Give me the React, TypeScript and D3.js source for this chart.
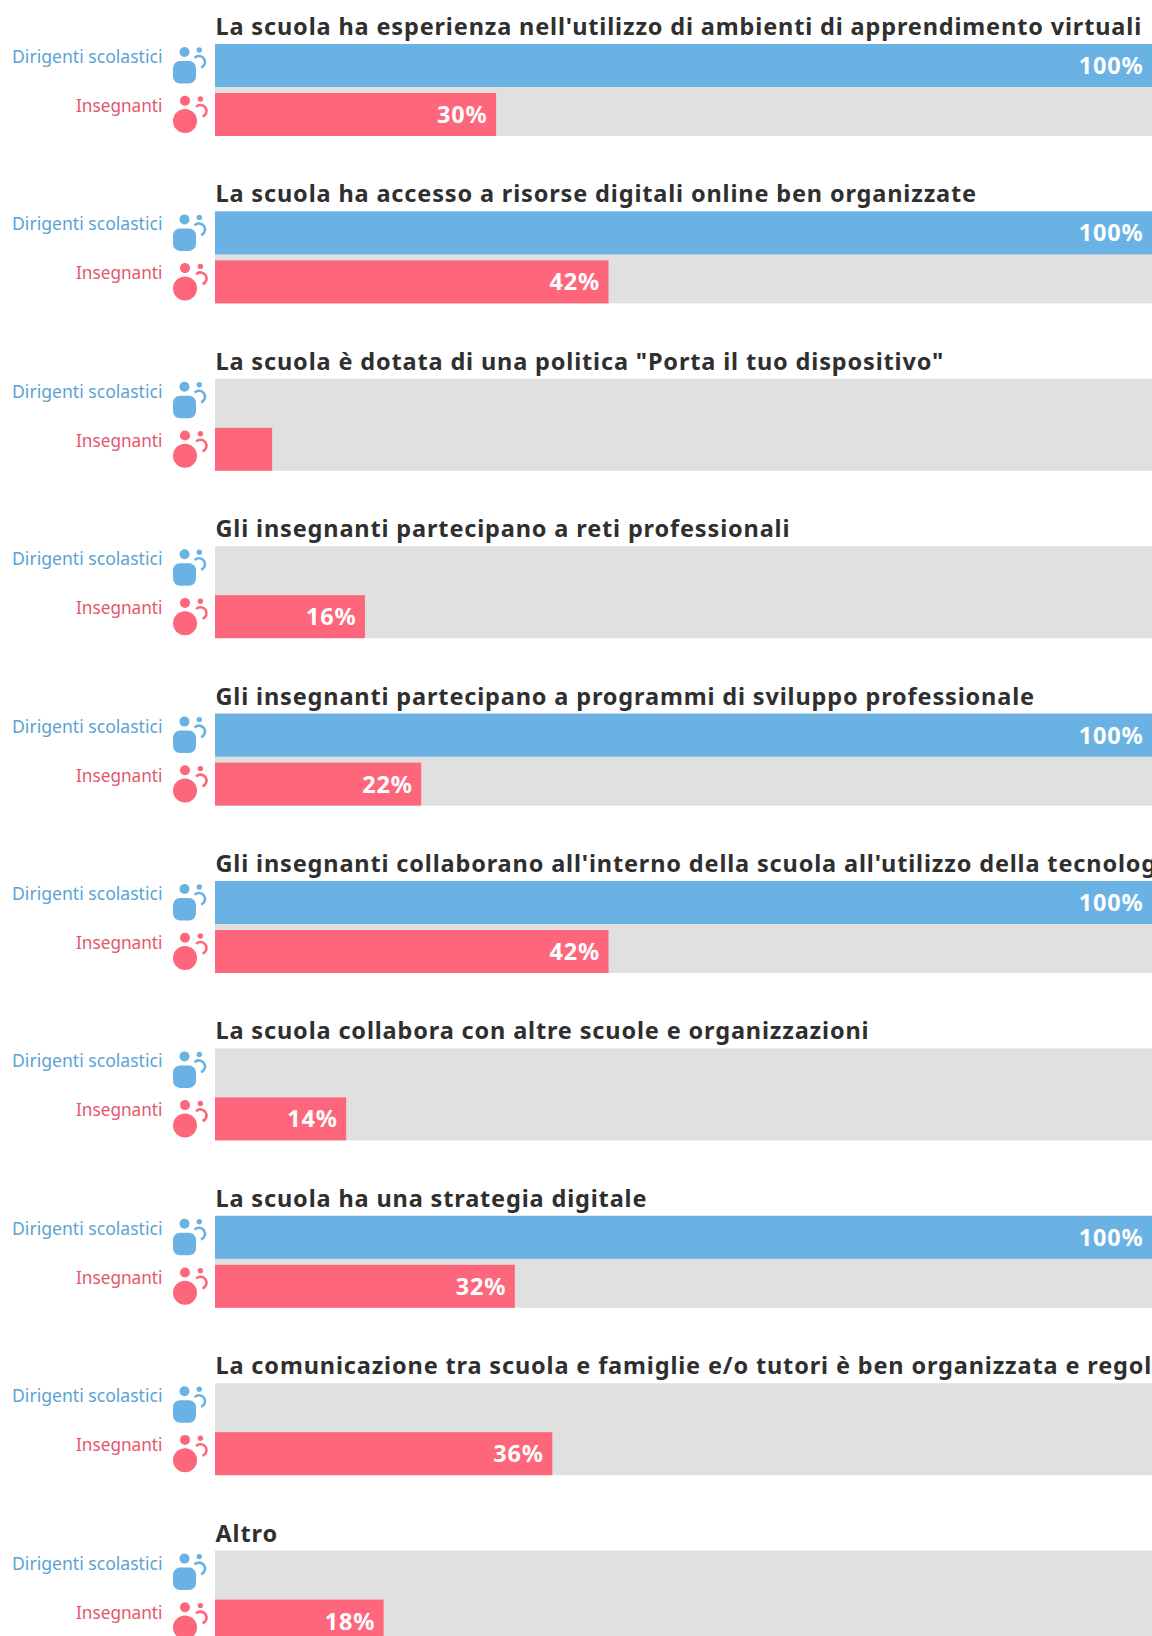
import React from "react";
import * as d3 from "d3";

const titles = [
  "La scuola ha esperienza nell'utilizzo di ambienti di apprendimento virtuali",
  "La scuola ha accesso a risorse digitali online ben organizzate",
  'La scuola è dotata di una politica "Porta il tuo dispositivo"',
  "Gli insegnanti partecipano a reti professionali",
  "Gli insegnanti partecipano a programmi di sviluppo professionale",
  "Gli insegnanti collaborano all'interno della scuola all'utilizzo della tecnologia",
  "La scuola collabora con altre scuole e organizzazioni",
  "La scuola ha una strategia digitale",
  "La comunicazione tra scuola e famiglie e/o tutori è ben organizzata e regolare",
  "Altro",
];
const dirigenti = [100, 100, 0, 0, 100, 100, 0, 100, 0, 0];
const insegnanti = [30, 42, 6.1, 16, 22, 42, 14, 32, 36, 18];
const labelFlags = [true, true, false, true, true, true, true, true, true, true];
const seriesNames = ["Dirigenti scolastici", "Insegnanti"];

const W = 1152, H = 1636;
const FONT = "'Noto Sans', sans-serif";
const x = d3.scaleLinear().domain([0, 100]).range([215, 1152]);
const groupY = d3.scaleLinear().domain([0, 9]).range([44, 1550.6]);
const BLUE = "#6ab2e3", RED = "#fd667b", GREY = "#e0e0e0";
const BAR = 43, GAP = 6;

function Arc({ cx, cy, color }: { cx: number; cy: number; color: string }) {
  const p = d3.path();
  p.arc(cx, cy, 6, -Math.PI * 0.76, Math.PI * 0.39);
  return <path d={p.toString()} fill="none" stroke={color} strokeWidth={2.6} />;
}

export default function App() {
  return (
    <svg width={W} height={H} style={{ position: "absolute", left: 0, top: 0, display: "block" }} fontFamily={FONT}>
      <rect width={W} height={H} fill="#fff" />
      {titles.map((t, i) => {
        const y = groupY(i);
        const redY = y + BAR + GAP;
        return (
          <g key={i}>
            <text x={215.5} y={y - 9} fontSize={23.5} fontWeight={700} letterSpacing={0.85} fill="#2f2f2f">{t}</text>
            <rect x={x(0)} y={y} width={x(100) - x(0)} height={BAR * 2 + GAP} fill={GREY} />
            {dirigenti[i] > 0 && <rect x={x(0)} y={y} width={x(dirigenti[i]) - x(0)} height={BAR} fill={BLUE} />}
            {dirigenti[i] > 0 && (
              <text x={x(dirigenti[i]) - 8.5} y={y + 30} textAnchor="end" fontSize={23.5} letterSpacing={0.8} fontWeight={700} fill="#fff">{dirigenti[i]}%</text>
            )}
            <rect x={x(0)} y={redY} width={x(insegnanti[i]) - x(0)} height={BAR} fill={RED} />
            {labelFlags[i] && (
              <text x={x(insegnanti[i]) - 8.5} y={redY + 30} textAnchor="end" fontSize={23.5} letterSpacing={0.8} fontWeight={700} fill="#fff">{insegnanti[i]}%</text>
            )}
            <text x={162.5} y={y + 19} textAnchor="end" fontSize={17.6} fill="#5aa3d3">{seriesNames[0]}</text>
            <text x={162.5} y={y + 68} textAnchor="end" fontSize={17.2} fill="#e5566d">{seriesNames[1]}</text>
            <circle cx={184.5} cy={y + 8} r={5} fill={BLUE} />
            <rect x={173} y={y + 17} width={23} height={22.5} rx={7} fill={BLUE} />
            <circle cx={199.3} cy={y + 6} r={2.7} fill={BLUE} />
            <Arc cx={199} cy={y + 18} color={BLUE} />
            <circle cx={185} cy={y + 56.7} r={5} fill={RED} />
            <circle cx={185} cy={y + 77} r={12} fill={RED} />
            <circle cx={200.4} cy={y + 55} r={2.7} fill={RED} />
            <Arc cx={200.5} cy={y + 67} color={RED} />
          </g>
        );
      })}
    </svg>
  );
}
